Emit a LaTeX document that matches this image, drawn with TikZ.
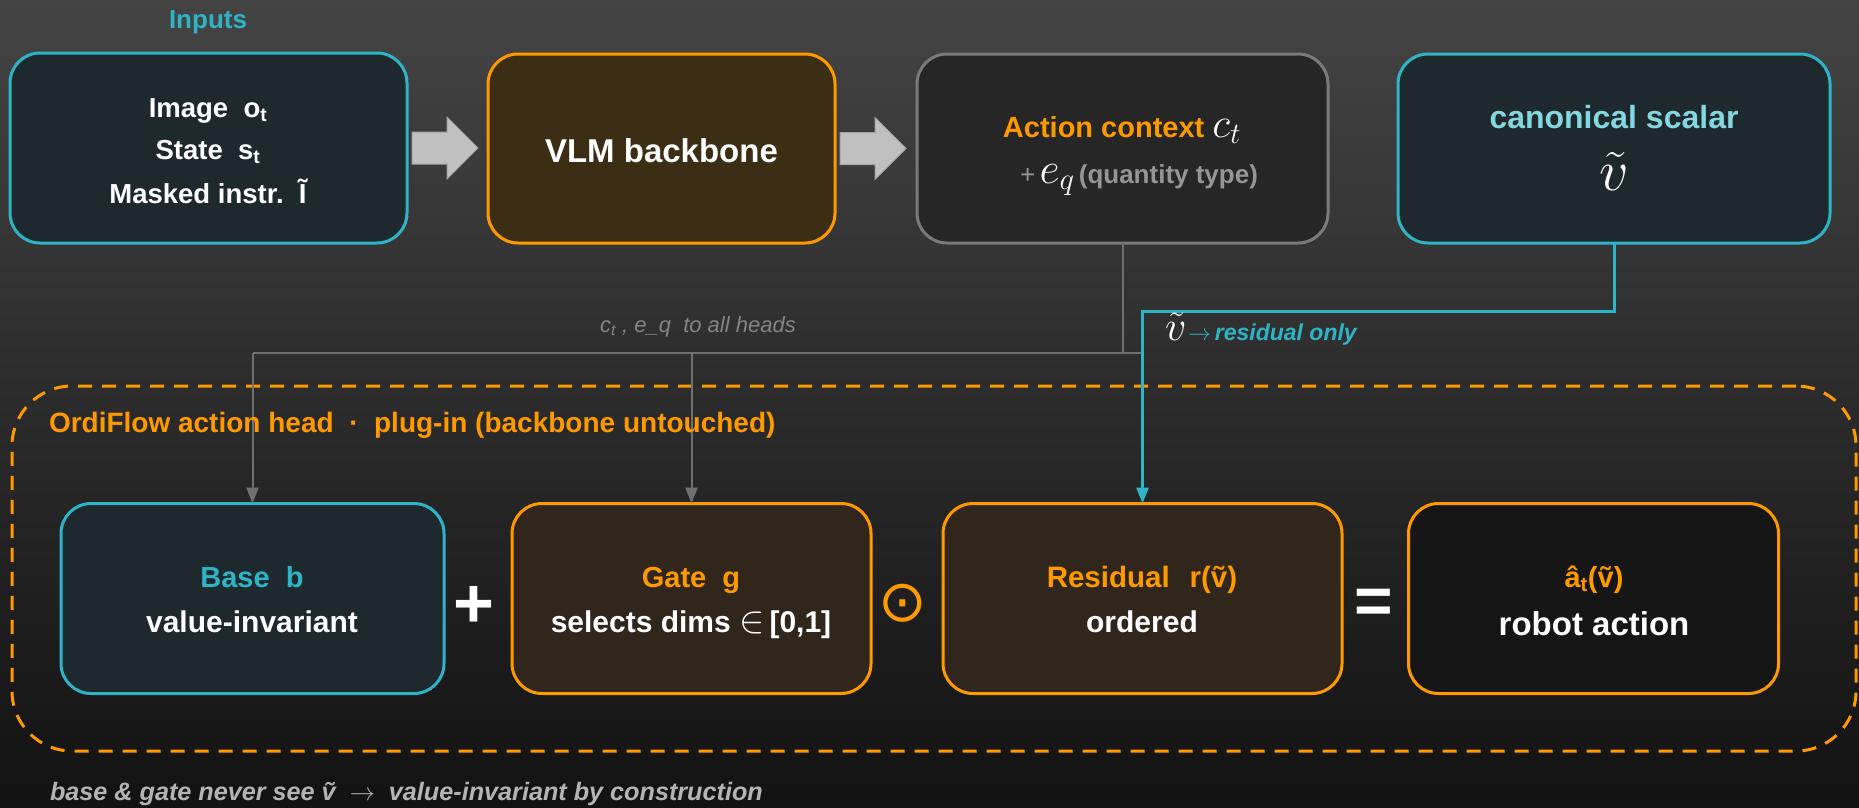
\RequirePackage{fix-cm}
\documentclass[tikz,border=0pt]{standalone}
\usepackage[no-math]{fontspec}
\setmainfont{Liberation Sans}
\newfontfamily\djv{DejaVu Sans}
\usetikzlibrary{arrows.meta,calc}
\definecolor{bgtop}{HTML}{444444}
\definecolor{bgbot}{HTML}{121212}
\definecolor{cyanl}{HTML}{2FB3C6}
\definecolor{lcyan}{HTML}{84D6DF}
\definecolor{orng}{HTML}{FF9900}
\definecolor{greyb}{HTML}{7A7A7A}
\definecolor{tealfill}{HTML}{1E292D}
\definecolor{brownfill}{HTML}{3C2E14}
\definecolor{darkfill}{HTML}{262626}
\definecolor{gatefill}{HTML}{30261C}
\definecolor{blackfill}{HTML}{161616}
\definecolor{greyt}{HTML}{959595}
\definecolor{busgrey}{HTML}{858585}
\definecolor{bottomgrey}{HTML}{B4B4B4}
\definecolor{arrowfill}{HTML}{C0C0C0}
\definecolor{arrowedge}{HTML}{A4A4A4}
\definecolor{glinec}{HTML}{707070}
\newcommand{\myfs}[1]{\fontsize{#1}{#1}\selectfont}
\begin{document}
\begin{tikzpicture}[x=1pt,y=-1pt,
  every node/.style={inner sep=0pt, outer sep=0pt},
  box/.style={draw, rounded corners=30pt, line width=3pt},
  frame/.style={draw=orng, line width=3pt, dash pattern=on 14pt off 10pt, rounded corners=60pt},
  lbl/.style={anchor=base, font=\bfseries, text=white},
  gline/.style={draw=glinec, line width=2pt},
  cline/.style={draw=cyanl, line width=3pt},
  tip/.style={-{Triangle[length=16pt,width=12pt]}},
  blockarrow/.style={fill=arrowfill, draw=arrowedge, line width=1pt}
]
\useasboundingbox (0,0) rectangle (1859,807);
\shade[top color=bgtop, bottom color=bgbot] (0,0) rectangle (1859,807);

% dashed frame of the action head
\node[frame, minimum width=1844pt, minimum height=365pt] (head) at (934,568.5) {};

% boxes
\node[box, draw=cyanl, fill=tealfill, minimum width=397pt, minimum height=190pt] (inp) at (208.5,148) {};
\node[box, draw=orng, fill=brownfill, minimum width=347pt, minimum height=189pt] (vlm) at (661.5,148.5) {};
\node[box, draw=greyb, fill=darkfill, minimum width=411pt, minimum height=189pt] (act) at (1122.5,148.5) {};
\node[box, draw=cyanl, fill=tealfill, minimum width=432pt, minimum height=189pt] (can) at (1614,148.5) {};
\node[box, draw=cyanl, fill=tealfill, minimum width=383pt, minimum height=190pt] (base) at (252.5,598.5) {};
\node[box, draw=orng, fill=gatefill, minimum width=359pt, minimum height=190pt] (gate) at (691.5,598.5) {};
\node[box, draw=orng, fill=gatefill, minimum width=399pt, minimum height=190pt] (res) at (1142.5,598.5) {};
\node[box, draw=orng, fill=blackfill, minimum width=370pt, minimum height=190pt] (out) at (1593.5,598.5) {};

% block arrows
\coordinate (a1) at ($(inp.east)+(5,0)$);
\coordinate (a2) at ($(vlm.east)+(5,0)$);
\foreach \c in {a1,a2}{
  \draw[blockarrow] (\c) ++(0,-16) -- ++(35,0) -- ++(0,-15) -- ++(31,31) -- ++(-31,31) -- ++(0,-15) -- ++(-35,0) -- cycle;
}

% grey context bus
\coordinate (busR) at (1142.5,353);
\coordinate (busL) at (252.5,353);
\draw[gline] (act.south) -- (act.south |- busR);
\draw[gline] (busR) -- (busL);
\draw[gline, tip] (busL) -- (base.north);
\draw[gline, tip] (gate.north |- busR) -- (gate.north);

% cyan scalar line
\coordinate (cturn) at (1142.5,311);
\draw[cline, tip] (can.south) |- (cturn) -- (res.north);

% texts
\node[lbl, text=cyanl] (inlab) at (208,28) {\myfs{26}Inputs};
\node[lbl] (i1) at (208,117) {\myfs{27.5}Image\ \ o\textsubscript{t}};
\node[lbl] (i2) at (208,159) {\myfs{27.5}State\ \ s\textsubscript{t}};
\node[lbl] (i3) at (208,203) {\myfs{27.5}Masked instr.\ \ Ĩ};

\node[lbl] (vlmt) at (661.5,162) {\myfs{33}VLM backbone};

\node[lbl] (act1) at (1122,137) {\myfs{29}{\color{orng}Action context}\ {\myfs{42}$c_t$}};
\node[lbl] (act2) at (1139,183) {\myfs{26}{\color{greyt}\mdseries +}\,{\myfs{44}$e_q$}\,{\color{greyt}(quantity type)}};

\node[lbl, text=lcyan] (can1) at (1614,128) {\myfs{32}canonical scalar};
\node[lbl] (can2) at (1614,190) {\myfs{58}$\tilde{v}$};

\node[lbl, text=busgrey, font=\mdseries\itshape] (buslab) at (698,332) {\myfs{22}c\textsubscript{t} , e\_q\ \ to all heads};
\node[lbl, anchor=base west] (rlab) at (1165,340) {{\myfs{42}$\tilde{v}$}\,{\myfs{23}\color{cyanl}$\rightarrow$\,\textit{residual only}}};

\node[lbl, anchor=base west, text=orng] (ttl) at (49,432) {\myfs{28}OrdiFlow action head\ \ ·\ \ plug-in (backbone untouched)};

\node[lbl, text=cyanl] (b1) at (252,587) {\myfs{29}Base\ \ b};
\node[lbl] (b2) at (252,632) {\myfs{30}value-invariant};
\node[lbl, text=orng] (g1) at (691,587) {\myfs{29}Gate\ \ g};
\node[lbl] (g2) at (691,632) {\myfs{30}selects dims\ {\myfs{38}$\in$}\,[0,1]};
\node[lbl, text=orng] (r1) at (1142,587) {\myfs{29.5}Residual\hspace{20pt}r(ṽ)};
\node[lbl] (r2) at (1142,632) {\myfs{30}ordered};
\node[lbl, text=orng] (o1) at (1594,587) {\myfs{29}â\textsubscript{t}(ṽ)};
\node[lbl] (o2) at (1594,635) {\myfs{33}robot action};

\node[lbl, anchor=center] (plus) at (474,607) {\myfs{70}+};
\node[lbl, anchor=center, text=orng, font=\djv] (odot) at (903,603) {\myfs{58}⊙};
\node[lbl, anchor=center] (eq) at (1374,606) {\myfs{66}=};

\node[lbl, anchor=base west, text=bottomgrey, font=\bfseries\itshape] (note) at (50,800) {\myfs{25.2}base \& gate never see ṽ\ \ {\mdseries\upshape$\rightarrow$}\ \ value-invariant by construction};
\end{tikzpicture}
\end{document}
